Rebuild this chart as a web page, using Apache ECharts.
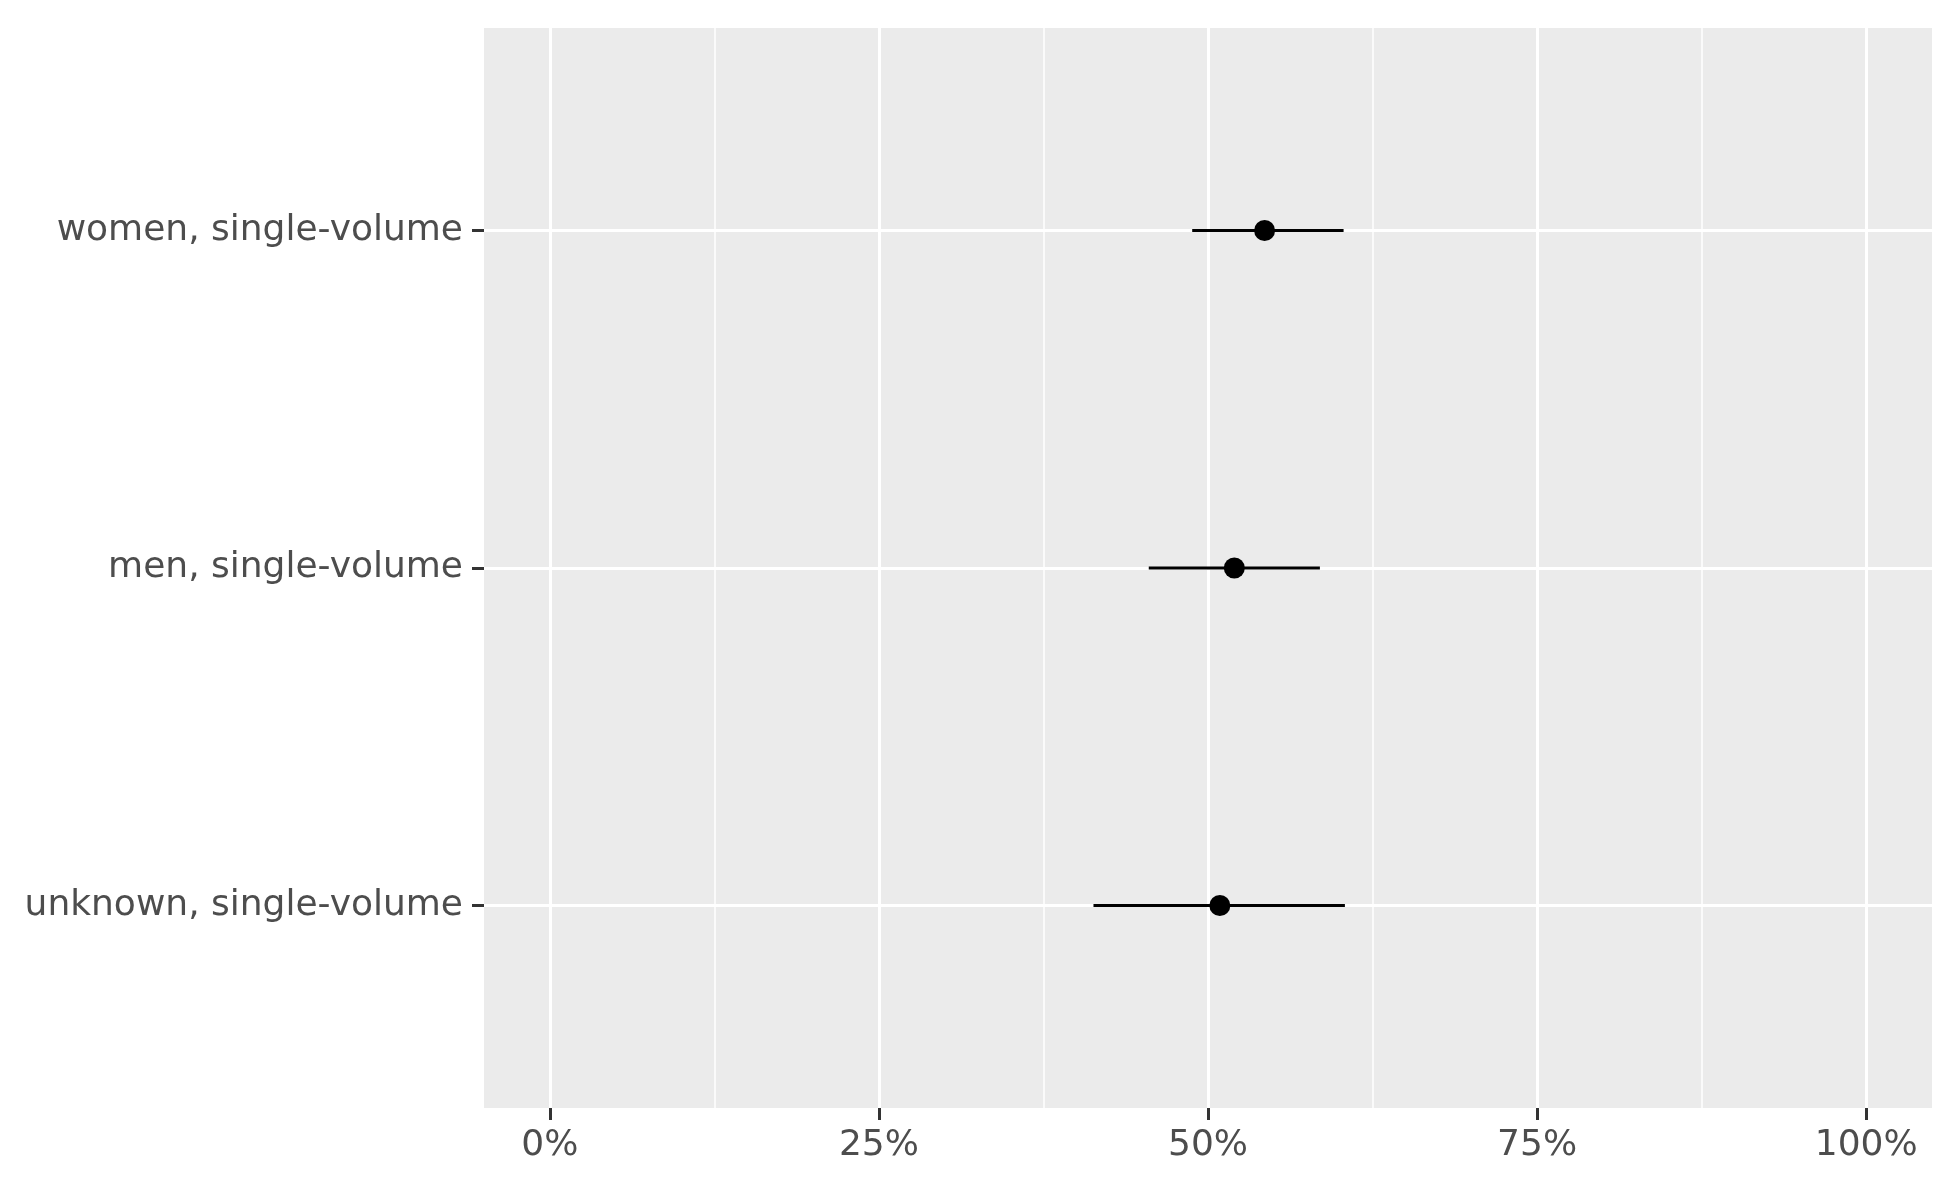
<!DOCTYPE html>
<html>
<head>
<meta charset="utf-8">
<title>single-volume estimates</title>
<script src="https://cdn.jsdelivr.net/npm/echarts@6/dist/echarts.min.js"></script>
<style>
  html, body { margin: 0; padding: 0; background: #fff; }
  #chart { width: 1959px; height: 1193px; }
</style>
</head>
<body>
<div id="chart"></div>
<script>
// data (percent)
var categories = ['women, single-volume', 'men, single-volume', 'unknown, single-volume'];
var yPos = [3, 2, 1];
var estimates = [54.3, 52.0, 50.9];
var lower = [48.8, 45.5, 41.3];
var upper = [60.3, 58.5, 60.4];
var xTicks = [0, 25, 50, 75, 100];
var xMinor = [12.5, 37.5, 62.5, 87.5];

var chart = echarts.init(document.getElementById('chart'));

var points = [];
for (var i = 0; i < categories.length; i++) {
  points.push([estimates[i], yPos[i]]);
}

// panel grid lines (white, ggplot style)
var gridLines = [];
xMinor.forEach(function (v) {
  gridLines.push({ xAxis: v, lineStyle: { color: '#fff', width: 1.5, type: 'solid' } });
});
xTicks.forEach(function (v) {
  gridLines.push({ xAxis: v, lineStyle: { color: '#fff', width: 3, type: 'solid' } });
});
yPos.forEach(function (v) {
  gridLines.push({ yAxis: v, lineStyle: { color: '#fff', width: 3, type: 'solid' } });
});

var labelStyle = {
  color: '#4D4D4D',
  fontSize: 36,
  fontFamily: 'DejaVu Sans'
};

var series = [
  {
    type: 'line',
    data: [],
    silent: true,
    z: 1,
    markLine: {
      z: 1,
      silent: true,
      symbol: ['none', 'none'],
      label: { show: false },
      emphasis: { disabled: true },
      data: gridLines
    }
  }
];

// one line per error bar
categories.forEach(function (c, i) {
  series.push({
    type: 'line',
    z: 6,
    silent: true,
    showSymbol: false,
    data: [[lower[i], yPos[i]], [upper[i], yPos[i]]],
    lineStyle: { color: '#000', width: 3 }
  });
});

series.push({
  type: 'scatter',
  z: 7,
  data: points,
  symbol: 'circle',
  symbolSize: 21,
  itemStyle: { color: '#000', opacity: 1 }
});

chart.setOption({
  animation: false,
  backgroundColor: '#fff',
  grid: {
    left: 484,
    top: 28,
    width: 1448,
    height: 1080,
    show: true,
    backgroundColor: '#EBEBEB',
    borderWidth: 0,
    containLabel: false,
    outerBoundsMode: 'none'
  },
  xAxis: {
    type: 'value',
    min: -5,
    max: 105,
    splitLine: { show: false },
    axisLine: { show: true, onZero: false, lineStyle: { color: 'rgba(0,0,0,0)' } },
    axisTick: {
      show: true,
      customValues: xTicks,
      length: 12,
      lineStyle: { color: '#333333', width: 3 }
    },
    axisLabel: Object.assign({
      customValues: xTicks,
      margin: 20,
      formatter: function (v) { return v + '%'; }
    }, labelStyle)
  },
  yAxis: {
    type: 'value',
    min: 0.4,
    max: 3.6,
    splitLine: { show: false },
    axisLine: { show: true, onZero: false, lineStyle: { color: 'rgba(0,0,0,0)' } },
    axisTick: {
      show: true,
      customValues: yPos,
      length: 12,
      lineStyle: { color: '#333333', width: 3 }
    },
    axisLabel: Object.assign({
      customValues: yPos,
      margin: 21,
      formatter: function (v) { return categories[yPos.indexOf(v)]; }
    }, labelStyle)
  },
  series: series
});
</script>
</body>
</html>
